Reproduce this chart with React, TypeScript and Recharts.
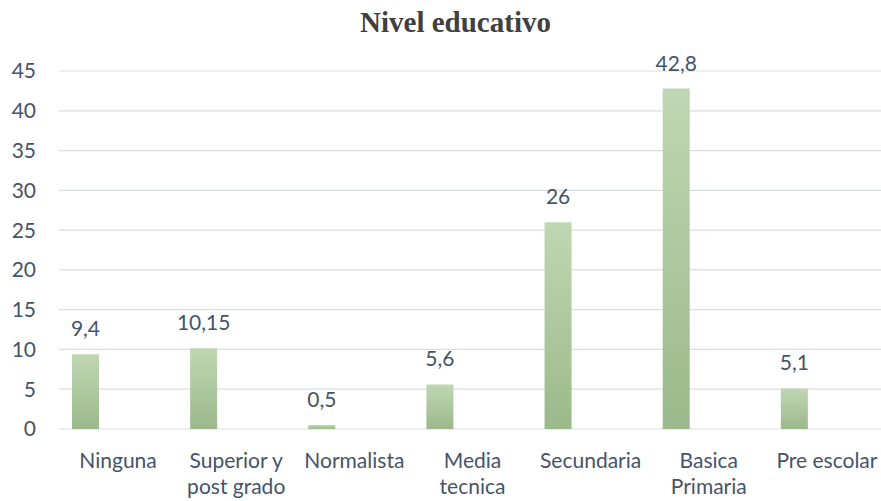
import { BarChart, Bar, XAxis, YAxis, CartesianGrid, LabelList } from "recharts"

const categories = [
  "Ninguna",
  "Superior y post grado",
  "Normalista",
  "Media tecnica",
  "Secundaria",
  "Basica Primaria",
  "Pre escolar",
]
const values = [9.4, 10.15, 0.5, 5.6, 26, 42.8, 5.1]
const yTicks = [0, 5, 10, 15, 20, 25, 30, 35, 40, 45]

const data = categories.map((name, i) => ({ name, valor: values[i] }))

const textColor = "#44546a"
const font = "Lato, 'Noto Sans', sans-serif"

// split the label into lines of at most 11 characters
const wrap = (s: string) => {
  const lines: string[] = []
  let cur = ""
  s.split(" ").forEach((w) => {
    if (cur && (cur + " " + w).length > 11) {
      lines.push(cur)
      cur = w
    } else {
      cur = cur ? cur + " " + w : w
    }
  })
  if (cur) lines.push(cur)
  return lines
}

const CategoryTick = (props: any) => {
  const { x, y, payload } = props
  const lines = wrap(payload.value)
  return (
    <text x={x} y={y + 39} textAnchor="middle" fill={textColor} fontSize={21} fontFamily={font}>
      {lines.map((l, i) => (
        <tspan key={i} x={x} dy={i === 0 ? 0 : 26}>
          {l}
        </tspan>
      ))}
    </text>
  )
}

const App = () => {
  return (
    <div style={{ position: "absolute", left: 0, top: 0, width: 881, height: 501, background: "#fff" }}>
      <div
        style={{
          position: "absolute",
          top: 8,
          left: 0,
          width: 881,
          paddingLeft: 30,
          boxSizing: "border-box",
          textAlign: "center",
          fontFamily: "'Liberation Serif', 'Times New Roman', serif",
          fontWeight: "bold",
          fontSize: 29,
          lineHeight: "29px",
          color: "#404040",
        }}
      >
        Nivel educativo
      </div>
      <BarChart
        width={881}
        height={501}
        data={data}
        margin={{ top: 71, right: -5, left: 0, bottom: 0 }}
        barSize={27}
        barGap={38}
      >
        <defs>
          <linearGradient id="verde" x1="0" y1="0" x2="0" y2="1">
            <stop offset="0%" stopColor="#bfd7b2" />
            <stop offset="100%" stopColor="#9bb98a" />
          </linearGradient>
        </defs>
        <CartesianGrid vertical={false} stroke="#d9dde4" strokeWidth={1.2} />
        <XAxis
          dataKey="name"
          axisLine={false}
          tickLine={false}
          tickSize={0}
          tickMargin={0}
          height={72}
          interval={0}
          tick={<CategoryTick />}
        />
        <YAxis
          domain={[0, 45]}
          ticks={yTicks}
          width={59}
          axisLine={false}
          tickLine={false}
          tickSize={0}
          tickMargin={23}
          tick={{ fill: textColor, fontSize: 21, fontFamily: font }}
        />
        <Bar dataKey="valor" fill="url(#verde)" isAnimationActive={false}>
          <LabelList
            dataKey="valor"
            position="top"
            offset={18}
            fill={textColor}
            fontSize={21}
            fontFamily={font}
            formatter={(v: any) => String(v).replace(".", ",")}
          />
        </Bar>
        <Bar dataKey="otro" fill="url(#verde)" isAnimationActive={false} />
      </BarChart>
    </div>
  )
}

export default App
